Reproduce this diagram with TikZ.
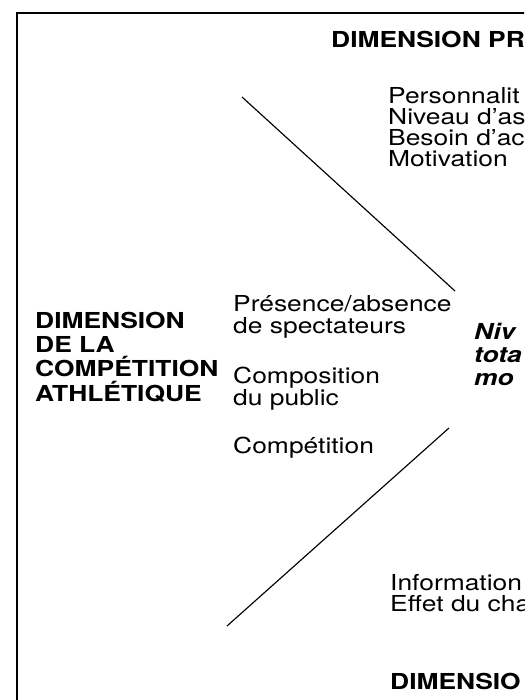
\documentclass[tikz,border=0pt]{standalone}
\usepackage{fontspec}
\setmainfont{TeX Gyre Heros}[FakeStretch=1.2]
\tikzset{
	item/.style={anchor=base west, inner sep=0pt, font=\fontsize{22}{21}\selectfont},
	dim/.style={item, font=\fontsize{22}{24}\selectfont\bfseries},
	total/.style={item, font=\fontsize{22}{23}\selectfont\bfseries\itshape},
	rule/.style={line width=1.15pt}
}
\begin{document}
\begin{tikzpicture}[x=1pt,y=-1pt]
		\useasboundingbox (0,0) rectangle (524,700);
		\clip (0,0) rectangle (524,700);
		\draw [line width=1.3pt] (17,710) -- (17,13) -- (530,13);
		
		\node [dim] (dimpr) at (331,48) {DIMENSION PR};
		\node [item] (perso) at (388,104) {Personnalit};
		\node [item] (asp) at (388,125) {Niveau d'as};
		\node [item] (besoin) at (388,146) {Besoin d'ac};
		\node [item] (motiv) at (388,167) {Motivation};
		
		\coordinate (ha) at (242,97); \coordinate (hb) at (455,291);
		\draw [rule] (ha) -- (hb);
		
		\node [dim] (dim1) at (35,328) {DIMENSION};
		\node [dim] (dim2) at (35,352) {DE LA};
		\node [dim] (dim3) at (35,376) {COMPÉTITION};
		\node [dim] (dim4) at (35,401) {ATHLÉTIQUE};
		
		\node [item] (pres) at (233,311) {Présence/absence};
		\node [item] (spec) at (233,333) {de spectateurs};
		\node [item] (comp) at (233,383) {Composition};
		\node [item] (pub) at (233,405) {du public};
		\node [item] (compet) at (233,453) {Compétition};
		
		\node [total] (niv) at (474,339) {Niv};
		\node [total] (tota) at (474,362) {tota};
		\node [total] (mo) at (474,385) {mo};
		
		\coordinate (ba) at (449,428); \coordinate (bb) at (227,626);
		\draw [rule] (ba) -- (bb);
		
		\node [item] (info) at (390,590) {Information};
		\node [item] (effet) at (390,611) {Effet du cha};
		\node [dim] (dimbas) at (390,689) {DIMENSIO};
\end{tikzpicture}
\end{document}
